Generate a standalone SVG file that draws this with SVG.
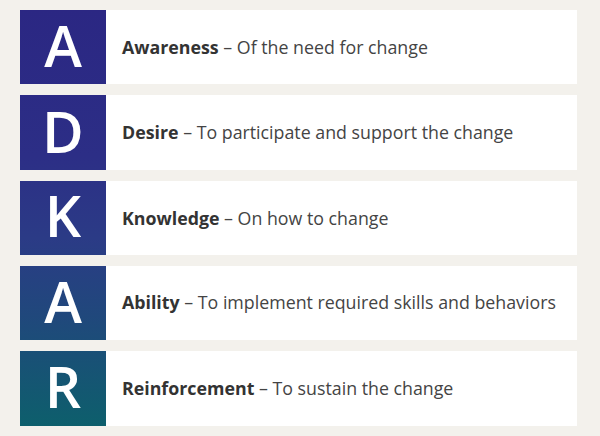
<svg xmlns="http://www.w3.org/2000/svg" width="600" height="436" viewBox="0 0 600 436">
<defs>
<linearGradient id="g" gradientUnits="userSpaceOnUse" x1="0" y1="10" x2="0" y2="426">
<stop offset="0" stop-color="#2b2783"/>
<stop offset="0.35" stop-color="#2c2e86"/>
<stop offset="0.55" stop-color="#2b3b86"/>
<stop offset="0.75" stop-color="#1f497b"/>
<stop offset="1" stop-color="#0d5f6c"/>
</linearGradient>
<style>
.card{fill:#ffffff}
.box{fill:url(#g)}
.letter{font-family:"Open Sans","Liberation Sans",sans-serif;font-size:57px;font-weight:600;fill:#ffffff;text-anchor:middle}
.lbl{font-family:"Open Sans","Liberation Sans",sans-serif;font-size:17.8px;fill:#444444}
.b{font-weight:bold;fill:#333333}
</style>
</defs>
<rect x="0" y="0" width="600" height="436" fill="#f3f1ec"/>
<g id="awareness">
<rect class="card" x="105" y="10" width="472" height="74"/>
<rect class="box" x="20" y="10" width="86" height="74"/>
<text class="letter" x="63" y="67">A</text>
<text class="lbl" x="122" y="54"><tspan class="b">Awareness</tspan> – Of the need for change</text>
</g>
<g id="desire">
<rect class="card" x="105" y="95" width="472" height="75"/>
<rect class="box" x="20" y="95" width="86" height="75"/>
<text class="letter" x="63" y="153">D</text>
<text class="lbl" x="122" y="139"><tspan class="b">Desire</tspan> – To participate and support the change</text>
</g>
<g id="knowledge">
<rect class="card" x="105" y="181" width="472" height="74"/>
<rect class="box" x="20" y="181" width="86" height="74"/>
<text class="letter" x="63" y="237">K</text>
<text class="lbl" x="122" y="225"><tspan class="b">Knowledge</tspan> – On how to change</text>
</g>
<g id="ability">
<rect class="card" x="105" y="266" width="472" height="74"/>
<rect class="box" x="20" y="266" width="86" height="74"/>
<text class="letter" x="63" y="323">A</text>
<text class="lbl" x="122" y="309"><tspan class="b">Ability</tspan> – To implement required skills and behaviors</text>
</g>
<g id="reinforcement">
<rect class="card" x="105" y="351" width="472" height="75"/>
<rect class="box" x="20" y="351" width="86" height="75"/>
<text class="letter" x="63" y="408">R</text>
<text class="lbl" x="122" y="395"><tspan class="b">Reinforcement</tspan> – To sustain the change</text>
</g>
<g id="connectors"/>
</svg>
